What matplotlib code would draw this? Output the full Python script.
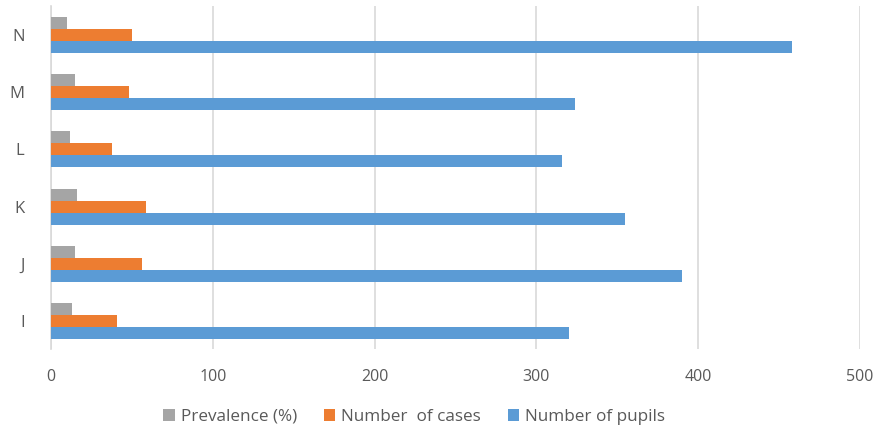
import matplotlib.pyplot as plt
import numpy as np

# Schools and their survey figures
schools = ['I', 'J', 'K', 'L', 'M', 'N']
prevalence = [13, 15, 16, 12, 15, 10]
cases = [41, 56, 59, 38, 48, 50]
pupils = [320, 390, 355, 316, 324, 458]

x_ticks = [0, 100, 200, 300, 400, 500]

plt.rcParams['font.family'] = ['Open Sans', 'DejaVu Sans']

fig = plt.figure(figsize=(8.78, 4.32), dpi=100)
ax = fig.add_axes([0.058, 0.191, 0.9215, 0.794])

y = np.arange(len(schools))
h = 0.21
ax.barh(y + h, prevalence, height=h, color='#A5A5A5', label='Prevalence (%)', zorder=3)
ax.barh(y, cases, height=h, color='#ED7D31', label='Number  of cases', zorder=3)
ax.barh(y - h, pupils, height=h, color='#5B9BD5', label='Number of pupils', zorder=3)

ax.set_xlim(0, 500)
ax.set_ylim(-0.5, len(schools) - 0.5)
ax.set_xticks(x_ticks)
ax.set_yticks(y)
ax.set_yticklabels(schools)
ax.grid(axis='x', color='#D9D9D9', linewidth=1.2, zorder=0)
for side in ['top', 'right', 'bottom']:
    ax.spines[side].set_visible(False)
ax.spines['left'].set_color('#D9D9D9')
ax.spines['left'].set_linewidth(1.2)
ax.tick_params(axis='x', length=0, labelsize=11.5, colors='#595959', pad=14)
ax.tick_params(axis='y', length=0, labelsize=12, colors='#595959', pad=19)

leg = fig.legend(loc='center', ncol=3, bbox_to_anchor=(0.472, 0.035), frameon=False,
                 fontsize=12.3, handlelength=0.65, handleheight=0.65, handletextpad=0.35,
                 columnspacing=1.6)
for t in leg.get_texts():
    t.set_color('#595959')

fig.savefig('out.png', dpi=100)
